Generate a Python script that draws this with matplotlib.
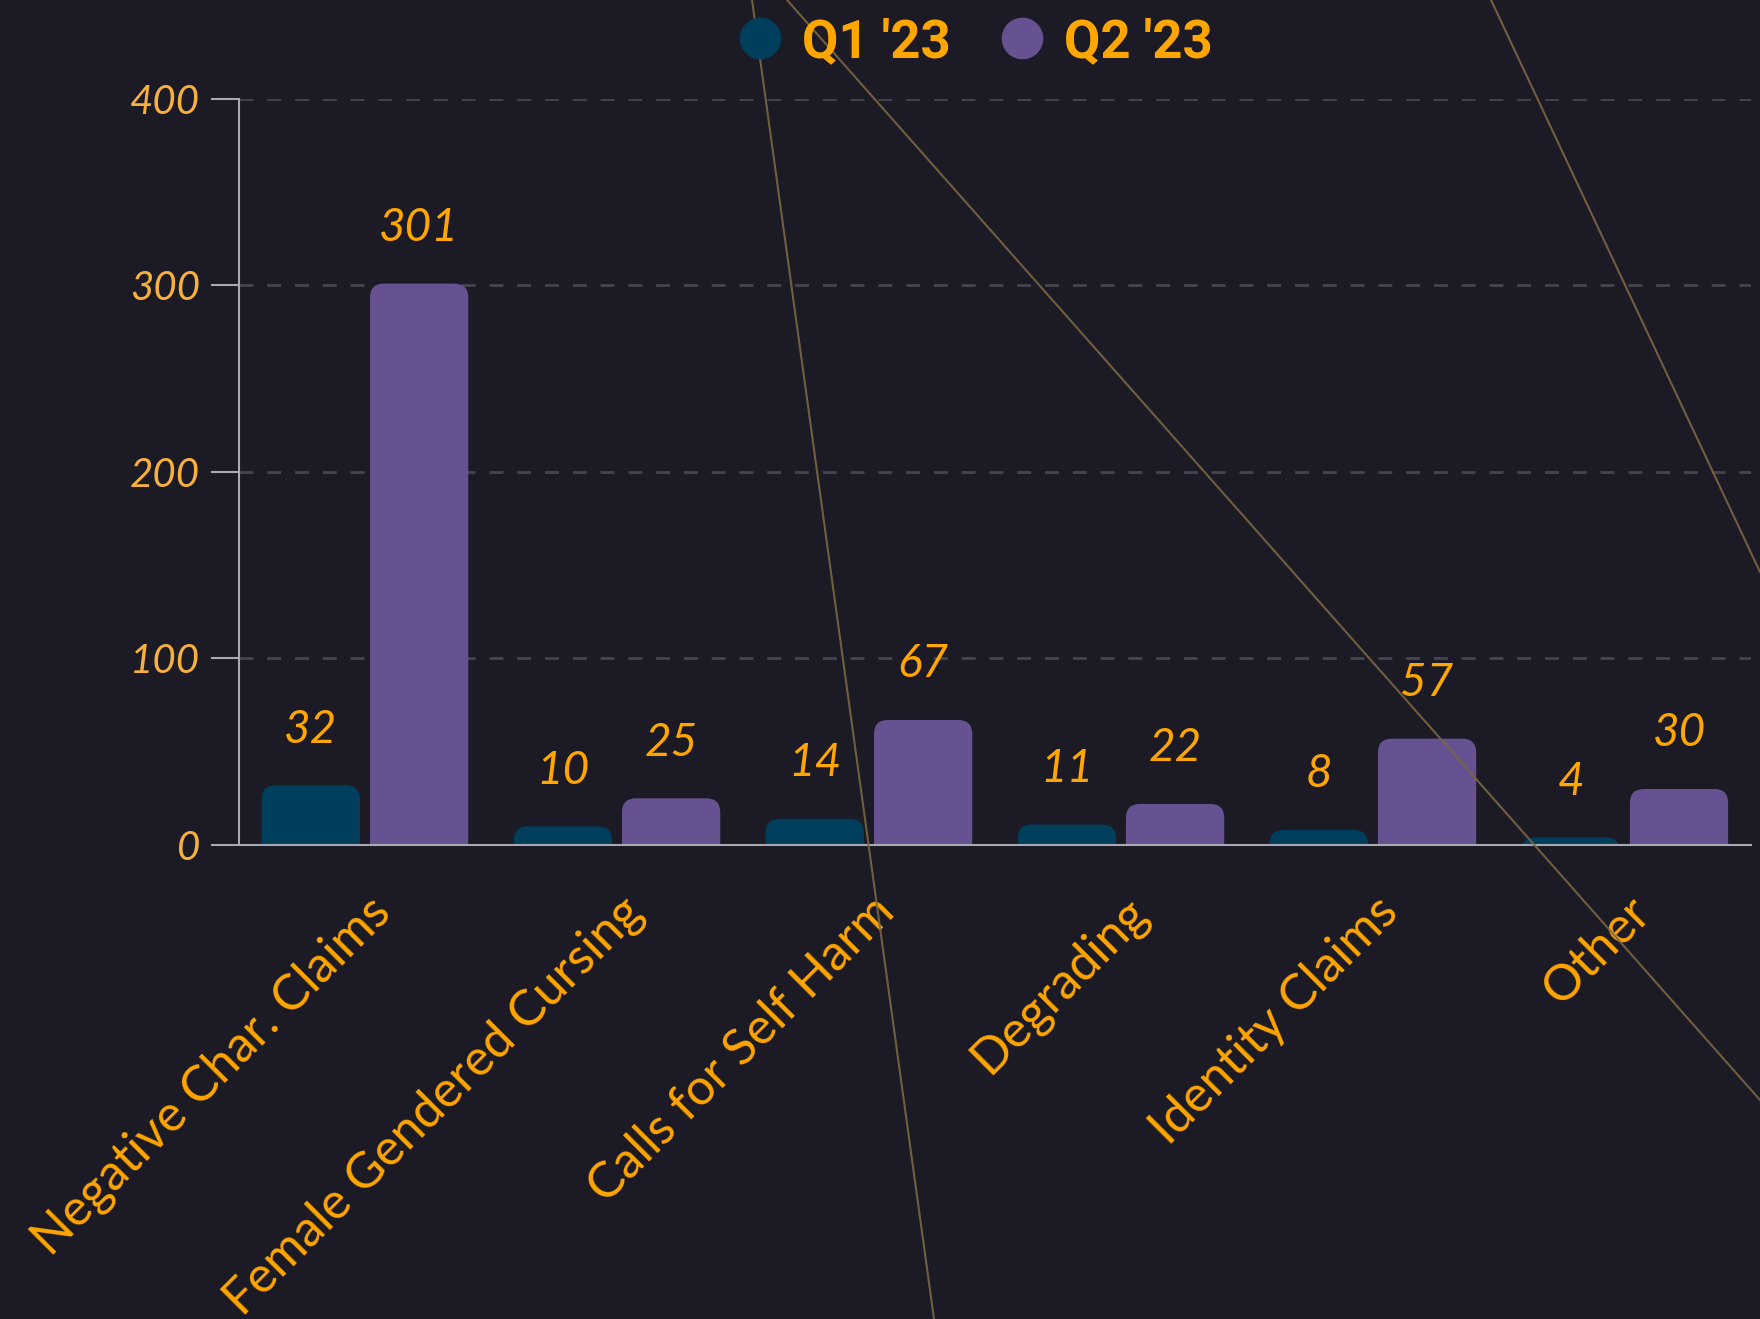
import matplotlib
matplotlib.use("Agg")
import matplotlib.pyplot as plt
import numpy as np
from matplotlib.patches import FancyBboxPatch
from matplotlib.lines import Line2D
from matplotlib.transforms import ScaledTranslation

# -------- data
categories = ["Negative Char. Claims", "Female Gendered Cursing", "Calls for Self Harm",
              "Degrading", "Identity Claims", "Other"]
q1 = [32, 10, 14, 11, 8, 4]
q2 = [301, 25, 67, 22, 57, 30]
series_names = ["Q1 '23", "Q2 '23"]
y_ticks = [0, 100, 200, 300, 400]

bg = '#1b1a25'
c_q1 = '#003f5c'
c_q2 = '#665191'
orange = '#ffa600'
tick_orange = '#f7b03e'
axis_grey = '#a9a9b2'
font = 'Lato'

fig = plt.figure(figsize=(17.6, 13.19), dpi=100, facecolor=bg)
ax = fig.add_axes([0.1358, 0.3594, 0.8590, 0.5656])
ax.set_facecolor(bg)

x = np.arange(len(categories))
w = 0.39
off = 0.215
ax.set_xlim(-0.5, len(categories) - 0.5)
ax.set_ylim(0, 400)

# grid
for yv in y_ticks[1:]:
    ax.axhline(yv, color='#45444f', lw=2, ls=(0, (5, 5)), zorder=0)

# bars with rounded tops
fig.canvas.draw()
px = ax.transData.transform([[0, 0], [1, 1]])
ux = 1.0 / (px[1, 0] - px[0, 0])   # x units per px
uy = 1.0 / (px[1, 1] - px[0, 1])   # y units per px
r_px = 14
rx = r_px * ux
aspect = uy / ux

for vals, xs, col in [(q1, x - off, c_q1), (q2, x + off, c_q2)]:
    bars = ax.bar(xs, vals, width=w, color=col)
    for rect, v in zip(bars, vals):
        rect.set_visible(False)
        base = -2.5 * r_px * uy
        p = FancyBboxPatch((rect.get_x(), base), rect.get_width(), v - base,
                           boxstyle="round,pad=0,rounding_size=%f" % rx,
                           mutation_aspect=aspect, fc=col, ec='none', zorder=2)
        ax.add_patch(p)
        ax.annotate(str(v), (rect.get_x() + rect.get_width() / 2, v),
                    xytext=(0, 40), textcoords='offset points', ha='center', va='center',
                    color=orange, fontsize=33, fontstyle='italic', family=font)

# axes styling
for s in ['top', 'right']:
    ax.spines[s].set_visible(False)
for s in ['left', 'bottom']:
    ax.spines[s].set_color(axis_grey)
    ax.spines[s].set_linewidth(1.5)
ax.set_yticks(y_ticks)
ax.set_yticklabels([str(t) for t in y_ticks], fontsize=29, fontstyle='italic',
                   family=font, color=tick_orange)
ax.tick_params(axis='y', length=20, width=1.5, color=axis_grey, pad=8)
ax.set_xticks(x)
ax.set_xticklabels(categories, rotation=45, ha='right', rotation_mode='anchor',
                   fontsize=36, family=font, color=orange)
ax.tick_params(axis='x', length=0, pad=31)
for lab in ax.get_xticklabels():
    lab.set_transform(lab.get_transform() + ScaledTranslation(2 / 100, 0, fig.dpi_scale_trans))

# legend
handles = [Line2D([], [], marker='o', ls='', markersize=30, color=c, markeredgewidth=0)
           for c in (c_q1, c_q2)]
leg = fig.legend(handles, series_names, loc='center', bbox_to_anchor=(0.553, 0.968), ncol=2,
                 frameon=False, handlelength=1.0, handletextpad=0.3, columnspacing=0.85,
                 prop={'family': 'Roboto', 'weight': 'bold', 'size': 38})
for t in leg.get_texts():
    t.set_color(orange)

# decorative background strokes
W, H = 1760.0, 1319.0
for (x0, y0), (x1, y1) in [((752, 0), (934, 1319)), ((787, 0), (1760, 1100)), ((1491, 0), (1760, 572))]:
    fig.add_artist(Line2D([x0 / W, x1 / W], [1 - y0 / H, 1 - y1 / H], transform=fig.transFigure,
                          color='#7a6643', lw=1.5, alpha=0.9, zorder=5))

fig.savefig('out.png', dpi=100, facecolor=bg)
